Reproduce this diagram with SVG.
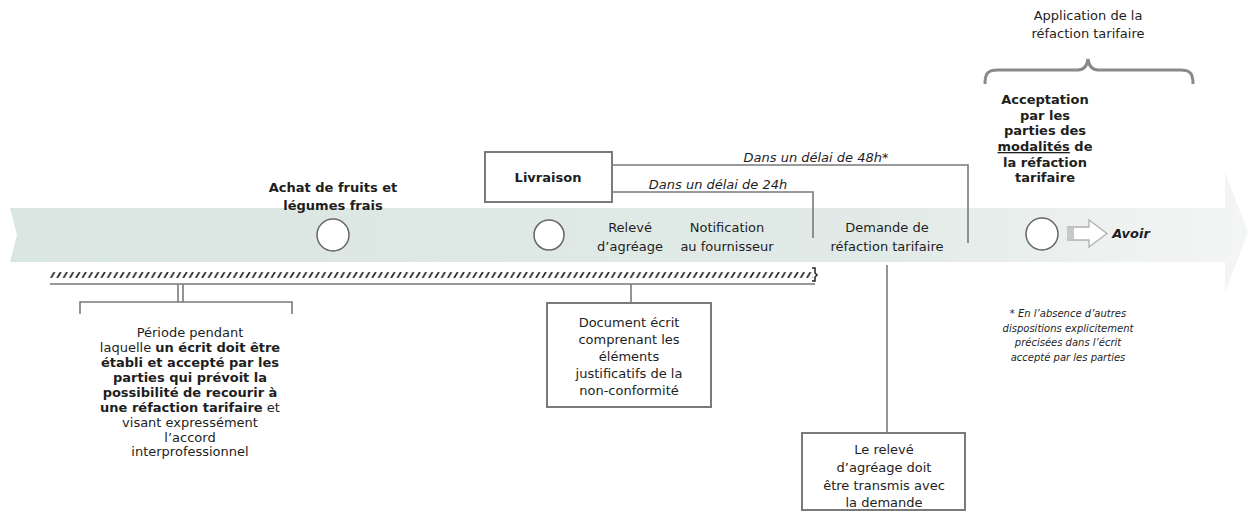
<svg xmlns="http://www.w3.org/2000/svg" width="1250" height="512" viewBox="0 0 1250 512">
<defs>
<linearGradient id="band" x1="0" y1="0" x2="1" y2="0">
<stop offset="0" stop-color="#dae6e2"/>
<stop offset="0.7" stop-color="#e1eae7"/>
<stop offset="0.88" stop-color="#edf1f0"/>
<stop offset="1" stop-color="#f4f5f5"/>
</linearGradient>
<pattern id="hatch" x="50" y="272" width="6.3" height="6" patternUnits="userSpaceOnUse">
<line x1="1.2" y1="5.5" x2="4.2" y2="0.5" stroke="#2a2a2a" stroke-width="1.7" stroke-linecap="round"/>
</pattern>
<style>
text{font-family:"DejaVu Sans","Liberation Sans",sans-serif;fill:#1e1e1e;text-anchor:middle;font-size:13px}
.b{font-weight:bold}
.i{font-style:italic}
.fn{font-size:10px;font-style:italic}
.ln{stroke:#7a7a7a;stroke-width:1.6;fill:none}
.box{fill:#fff;stroke:#7a7a7a;stroke-width:2}
.dot{fill:#fff;stroke:#666;stroke-width:1.5}
</style>
</defs>
<rect width="1250" height="512" fill="#fff"/>
<g id="timeline">
<path d="M10,208 L1225,208 L1225,172 L1248,232 L1225,293 L1225,262 L10,262 L17,235 Z" fill="url(#band)"/>
<rect x="50" y="272" width="763" height="6" fill="url(#hatch)"/>
<line x1="50" y1="284" x2="815" y2="284" stroke="#999" stroke-width="2"/>
<path d="M812,268 L815,268 L815,273 L817,275 L815,277 L815,281 L812,281" fill="none" stroke="#222" stroke-width="1.5"/>
</g>
<g id="connectors">
<polyline class="ln" points="612,165 968,165 968,243"/>
<polyline class="ln" points="612,192 813,192 813,238"/>
<line class="ln" x1="887" y1="265" x2="887" y2="433" stroke-width="2"/>
<line class="ln" x1="631" y1="284" x2="631" y2="303"/>
<line class="ln" x1="178" y1="284" x2="178" y2="302"/>
<line class="ln" x1="183" y1="284" x2="183" y2="302"/>
<polyline class="ln" points="80,314 80,302 292,302 292,314"/>
<path d="M985,84 C985,73 988,70 998,70 L1078,70 C1084,70 1087,66 1088,59 C1089,66 1092,70 1098,70 L1180,70 C1190,70 1193,73 1193,84" fill="none" stroke="#8a8a8a" stroke-width="3"/>
</g>
<g id="achat">
<circle class="dot" cx="333" cy="235" r="16"/>
<text class="b" x="333" y="192">Achat de fruits et</text>
<text class="b" x="333" y="210">légumes frais</text>
</g>
<g id="livraison">
<rect class="box" x="485" y="152" width="127" height="50"/>
<text class="b" x="548" y="182">Livraison</text>
</g>
<g id="delai48">
<text class="i" x="816" y="162" font-size="13.5">Dans un délai de 48h*</text>
</g>
<g id="delai24">
<text class="i" x="718" y="189" font-size="13.5">Dans un délai de 24h</text>
</g>
<g id="releve">
<circle class="dot" cx="549" cy="235" r="15"/>
<text x="630" y="232">Relevé</text>
<text x="630" y="251">d’agréage</text>
</g>
<g id="notification">
<text x="727" y="232">Notification</text>
<text x="727" y="251">au fournisseur</text>
</g>
<g id="demande">
<text x="887" y="232">Demande de</text>
<text x="887" y="251">réfaction tarifaire</text>
</g>
<g id="acceptation">
<circle class="dot" cx="1042" cy="234" r="16"/>
<text class="b" x="1045" y="104">Acceptation</text>
<text class="b" x="1045" y="120">par les</text>
<text class="b" x="1045" y="135">parties des</text>
<text class="b" x="1045" y="151"><tspan text-decoration="underline">modalités</tspan> de</text>
<text class="b" x="1045" y="167">la réfaction</text>
<text class="b" x="1045" y="182">tarifaire</text>
</g>
<g id="application">
<text x="1088" y="20">Application de la</text>
<text x="1088" y="38">réfaction tarifaire</text>
</g>
<g id="avoir">
<path d="M1068,227 L1089,227 L1089,220 L1107,233.5 L1089,247 L1089,240 L1068,240 Z" fill="#fff" stroke="#b0b0b0" stroke-width="1.3"/>
<rect x="1069" y="228" width="5" height="11" fill="#c8c8c8"/>
<text class="b i" x="1131" y="238">Avoir</text>
</g>
<g id="periode">
<text x="190" y="337">Période pendant</text>
<text x="190" y="352">laquelle <tspan class="b">un écrit doit être</tspan></text>
<text class="b" x="190" y="367">établi et accepté par les</text>
<text class="b" x="190" y="382">parties qui prévoit la</text>
<text class="b" x="190" y="397">possibilité de recourir à</text>
<text x="190" y="412"><tspan class="b">une réfaction tarifaire</tspan> et</text>
<text x="190" y="427">visant expressément</text>
<text x="190" y="442">l’accord</text>
<text x="190" y="456">interprofessionnel</text>
</g>
<g id="document">
<rect class="box" x="547" y="303" width="164" height="104"/>
<text x="629" y="327">Document écrit</text>
<text x="629" y="344">comprenant les</text>
<text x="629" y="361">éléments</text>
<text x="629" y="378">justificatifs de la</text>
<text x="629" y="395">non-conformité</text>
</g>
<g id="transmis">
<rect class="box" x="802" y="433" width="163" height="77"/>
<text x="884" y="454">Le relevé</text>
<text x="884" y="472">d’agréage doit</text>
<text x="884" y="490">être transmis avec</text>
<text x="884" y="507">la demande</text>
</g>
<g id="footnote">
<text class="fn" x="1068" y="317">* En l’absence d’autres</text>
<text class="fn" x="1068" y="332">dispositions explicitement</text>
<text class="fn" x="1068" y="346">précisées dans l’écrit</text>
<text class="fn" x="1068" y="361">accepté par les parties</text>
</g>
</svg>
